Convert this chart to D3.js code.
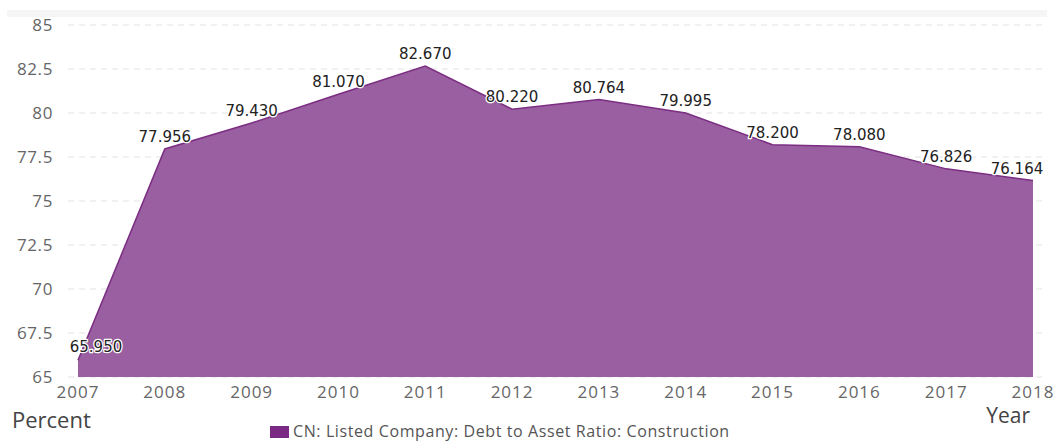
<!DOCTYPE html>
<html>
<head>
<meta charset="utf-8">
<script src="https://cdn.jsdelivr.net/npm/d3@7"></script>
<style>
  body { margin: 0; background: #fff; }
  svg { display: block; }
</style>
</head>
<body>
<div id="chart"></div>
<script>
// Data
const years = [2007, 2008, 2009, 2010, 2011, 2012, 2013, 2014, 2015, 2016, 2017, 2018]
const ratio = [65.950, 77.956, 79.430, 81.070, 82.670, 80.220, 80.764, 79.995, 78.200, 78.080, 76.826, 76.164]
const yTicks = [65, 67.5, 70, 72.5, 75, 77.5, 80, 82.5, 85]
const seriesName = "CN: Listed Company: Debt to Asset Ratio: Construction"

const w = 1059, h = 441
const svg = d3.select("#chart").append("svg").attr("width", w).attr("height", h)

const x = d3.scaleLinear().domain([2007, 2018]).range([78, 1033])
const y = d3.scaleLinear().domain([65, 85]).range([377, 25])

// faint band at top
svg.append("rect").attr("x", 7).attr("y", 10).attr("width", 1040).attr("height", 7).attr("fill", "#f5f5f5")

// Gridlines
svg.append("g").selectAll("line")
    .data(yTicks)
    .enter()
    .append("line")
    .attr("x1", 68).attr("x2", 1045)
    .attr("y1", d => y(d)).attr("y2", d => y(d))
    .style("stroke", "#e2e2e2")
    .style("stroke-dasharray", "6,5")

// Y tick labels
svg.append("g").selectAll("text")
    .data(yTicks)
    .enter()
    .append("text")
    .attr("x", 53).attr("y", d => y(d) + 6)
    .attr("text-anchor", "end")
    .style("font-family", "Open Sans, sans-serif")
    .style("font-size", "17px")
    .style("letter-spacing", "0.6px")
    .style("fill", "#666")
    .text(d => d)

// X tick labels
svg.append("g").selectAll("text")
    .data(years)
    .enter()
    .append("text")
    .attr("x", d => x(d)).attr("y", 398)
    .attr("text-anchor", "middle")
    .style("font-family", "Open Sans, sans-serif")
    .style("font-size", "17px")
    .style("letter-spacing", "1px")
    .style("fill", "#666")
    .text(d => d)

// Area + line
const pts = years.map((d, i) => [d, ratio[i]])
const area = d3.area().x(d => x(d[0])).y0(y(65)).y1(d => y(d[1]))
const line = d3.line().x(d => x(d[0])).y(d => y(d[1]))

svg.append("path").attr("d", area(pts)).attr("fill", "#9a5fa0")
svg.append("path").attr("d", line(pts)).attr("fill", "none").attr("stroke", "#7b2d82").attr("stroke-width", 1.5)

// Data labels (first and last nudged inside the plot)
svg.append("g").selectAll("text")
    .data(pts)
    .enter()
    .append("text")
    .attr("x", (d, i) => i === 0 ? x(d[0]) + 18 : (i === pts.length - 1 ? x(d[0]) - 16 : x(d[0])))
    .attr("y", (d, i) => y(d[1]) - (i === 0 ? 8 : 7))
    .attr("text-anchor", "middle")
    .style("font-family", "DejaVu Sans, sans-serif")
    .style("font-size", "15px")
    .style("fill", "#222")
    .style("stroke", "#fff")
    .style("stroke-width", 2.5)
    .style("paint-order", "stroke")
    .style("stroke-linejoin", "round")
    .text(d => d[1].toFixed(3))

// Axis titles
svg.append("text").attr("x", 12).attr("y", 428)
    .style("font-family", "Open Sans, sans-serif").style("font-size", "22px").style("fill", "#444")
    .text("Percent")
svg.append("text").attr("x", 1030).attr("y", 423).attr("text-anchor", "end")
    .style("font-family", "Open Sans, sans-serif").style("font-size", "21px").style("fill", "#444")
    .text("Year")

// Legend
svg.append("rect").attr("x", 270).attr("y", 426).attr("width", 19).attr("height", 12).attr("fill", "#7b2a83")
svg.append("text").attr("x", 293).attr("y", 437)
    .style("font-family", "Open Sans, sans-serif").style("font-size", "16px")
    .style("letter-spacing", "0.6px").style("fill", "#555")
    .text(seriesName)
</script>
</body>
</html>
